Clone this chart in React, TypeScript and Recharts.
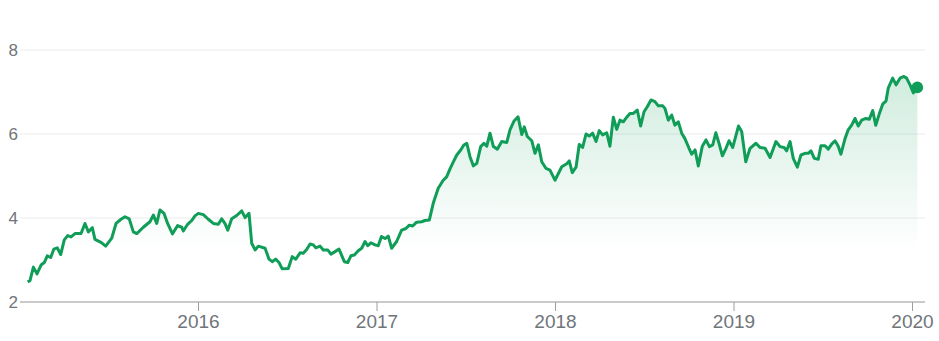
import {
  ComposedChart, Area, XAxis, YAxis, CartesianGrid, ReferenceDot,
} from 'recharts'

// time as decimal years (weekly-ish closes)
const years = [
  2015.043, 2015.056, 2015.075, 2015.095, 2015.118, 2015.136, 2015.153, 2015.172, 2015.190, 2015.209,
  2015.228, 2015.248, 2015.267, 2015.286, 2015.308, 2015.342, 2015.364, 2015.383, 2015.405, 2015.420,
  2015.454, 2015.480, 2015.514, 2015.538, 2015.566, 2015.588, 2015.612, 2015.635, 2015.654, 2015.691,
  2015.728, 2015.747, 2015.766, 2015.784, 2015.807, 2015.827, 2015.854, 2015.883, 2015.906, 2015.915,
  2015.939, 2015.962, 2015.980, 2015.999, 2016.027, 2016.055, 2016.083, 2016.111, 2016.130, 2016.148,
  2016.164, 2016.186, 2016.214, 2016.242, 2016.261, 2016.283, 2016.298, 2016.317, 2016.335, 2016.373,
  2016.395, 2016.413, 2016.432, 2016.451, 2016.469, 2016.503, 2016.525, 2016.545, 2016.569, 2016.587,
  2016.606, 2016.625, 2016.643, 2016.657, 2016.681, 2016.699, 2016.724, 2016.742, 2016.765, 2016.787,
  2016.817, 2016.836, 2016.854, 2016.873, 2016.895, 2016.914, 2016.933, 2016.948, 2016.966, 2016.989,
  2017.007, 2017.025, 2017.045, 2017.063, 2017.082, 2017.110, 2017.138, 2017.162, 2017.181, 2017.200,
  2017.222, 2017.250, 2017.269, 2017.293, 2017.315, 2017.343, 2017.371, 2017.390, 2017.409, 2017.427,
  2017.447, 2017.469, 2017.487, 2017.503, 2017.521, 2017.540, 2017.559, 2017.581, 2017.599, 2017.615,
  2017.633, 2017.652, 2017.674, 2017.699, 2017.727, 2017.745, 2017.768, 2017.790, 2017.811, 2017.825,
  2017.842, 2017.867, 2017.885, 2017.904, 2017.923, 2017.947, 2017.969, 2017.997, 2018.035, 2018.063,
  2018.077, 2018.094, 2018.115, 2018.133, 2018.152, 2018.171, 2018.189, 2018.208, 2018.227, 2018.245,
  2018.264, 2018.287, 2018.305, 2018.324, 2018.343, 2018.361, 2018.380, 2018.399, 2018.417, 2018.436,
  2018.458, 2018.477, 2018.496, 2018.514, 2018.535, 2018.557, 2018.576, 2018.601, 2018.613, 2018.632,
  2018.651, 2018.669, 2018.688, 2018.707, 2018.725, 2018.748, 2018.763, 2018.782, 2018.800, 2018.822,
  2018.843, 2018.862, 2018.881, 2018.898, 2018.916, 2018.935, 2018.955, 2018.972, 2018.993, 2019.025,
  2019.043, 2019.066, 2019.090, 2019.123, 2019.146, 2019.174, 2019.202, 2019.235, 2019.258, 2019.280,
  2019.295, 2019.314, 2019.332, 2019.355, 2019.375, 2019.398, 2019.416, 2019.431, 2019.450, 2019.472,
  2019.487, 2019.510, 2019.528, 2019.547, 2019.566, 2019.584, 2019.599, 2019.622, 2019.640, 2019.659,
  2019.678, 2019.696, 2019.715, 2019.739, 2019.758, 2019.777, 2019.794, 2019.814, 2019.833, 2019.852,
  2019.864, 2019.889, 2019.908, 2019.930, 2019.952, 2019.967, 2019.986, 2020.005, 2020.027,
]

const prices = [
  2.48, 2.51, 2.83, 2.67, 2.88, 2.94, 3.10, 3.06, 3.26, 3.29,
  3.13, 3.48, 3.58, 3.55, 3.63, 3.63, 3.87, 3.67, 3.77, 3.49,
  3.42, 3.33, 3.52, 3.87, 3.97, 4.03, 3.98, 3.67, 3.63, 3.78,
  3.91, 4.07, 3.87, 4.19, 4.11, 3.87, 3.62, 3.82, 3.78, 3.69,
  3.85, 3.94, 4.05, 4.11, 4.08, 3.97, 3.87, 3.85, 3.98, 3.87,
  3.71, 3.98, 4.06, 4.17, 4.01, 4.11, 3.40, 3.24, 3.33, 3.28,
  3.02, 2.96, 3.02, 2.94, 2.79, 2.80, 3.08, 3.02, 3.17, 3.16,
  3.25, 3.38, 3.36, 3.29, 3.33, 3.24, 3.24, 3.14, 3.20, 3.26,
  2.96, 2.94, 3.10, 3.12, 3.22, 3.28, 3.44, 3.34, 3.41, 3.36,
  3.34, 3.56, 3.51, 3.57, 3.28, 3.44, 3.71, 3.75, 3.83, 3.81,
  3.90, 3.91, 3.94, 3.95, 4.35, 4.71, 4.90, 4.98, 5.17, 5.33,
  5.50, 5.62, 5.74, 5.78, 5.46, 5.24, 5.30, 5.70, 5.78, 5.71,
  6.02, 5.70, 5.64, 5.82, 5.80, 6.10, 6.31, 6.41, 5.99, 6.17,
  5.94, 5.84, 5.54, 5.74, 5.34, 5.18, 5.14, 4.90, 5.22, 5.29,
  5.36, 5.08, 5.21, 5.75, 5.68, 6.00, 5.95, 6.02, 5.82, 6.08,
  5.98, 6.03, 5.71, 6.40, 6.11, 6.33, 6.29, 6.40, 6.49, 6.49,
  6.57, 6.19, 6.53, 6.65, 6.81, 6.77, 6.67, 6.67, 6.61, 6.33,
  6.45, 6.21, 6.29, 6.02, 5.89, 5.66, 5.52, 5.62, 5.24, 5.70,
  5.86, 5.70, 5.74, 6.03, 5.78, 5.48, 5.66, 5.84, 5.68, 6.19,
  6.06, 5.34, 5.66, 5.78, 5.68, 5.66, 5.44, 5.82, 5.70, 5.68,
  5.60, 5.82, 5.42, 5.21, 5.50, 5.54, 5.54, 5.60, 5.42, 5.40,
  5.72, 5.72, 5.64, 5.76, 5.84, 5.71, 5.52, 5.89, 6.10, 6.21,
  6.37, 6.19, 6.33, 6.37, 6.35, 6.56, 6.21, 6.48, 6.71, 6.79,
  7.09, 7.33, 7.17, 7.33, 7.37, 7.33, 7.17, 6.98, 7.11,
]

const yearTicks = [2016, 2017, 2018, 2019, 2020]
const priceTicks = [2, 4, 6, 8]

const GREEN = '#0f9d58'
const TEXT = '#70757a'
const FONT = 'Arial, "Liberation Sans", sans-serif'

const data = years.map((t, i) => ({ t, v: prices[i] }))
const last = data[data.length - 1]

export default function App() {
  return (
    <div style={{ position: 'absolute', left: 0, top: 0, fontFamily: FONT }}>
      <ComposedChart
        width={939}
        height={341}
        data={data}
        margin={{ top: 50, right: 14, left: 0, bottom: 0 }}
      >
        <defs>
          <linearGradient id="fillGreen" x1="0" y1="0" x2="0" y2="1">
            <stop offset="0%" stopColor={GREEN} stopOpacity={0.32} />
            <stop offset="77%" stopColor={GREEN} stopOpacity={0} />
          </linearGradient>
        </defs>
        <CartesianGrid vertical={false} stroke="#ececec" />
        <XAxis
          dataKey="t"
          type="number"
          domain={[2015, 2020.07]}
          ticks={yearTicks}
          allowDataOverflow
          height={39}
          tickSize={9}
          tickMargin={4}
          stroke="#9e9e9e"
          tick={{ fontSize: 19, fill: TEXT, fontFamily: FONT }}
        />
        <YAxis
          domain={[2, 8]}
          ticks={priceTicks}
          width={20}
          axisLine={false}
          tickLine={false}
          tickSize={0}
          tickMargin={2}
          tick={{ fontSize: 17, fill: TEXT, fontFamily: FONT }}
        />
        <Area
          type="linear"
          dataKey="v"
          stroke={GREEN}
          strokeWidth={3}
          strokeLinejoin="round"
          fill="url(#fillGreen)"
          dot={false}
          activeDot={false}
          isAnimationActive={false}
        />
        <ReferenceDot x={last.t} y={last.v} r={5.8} fill={GREEN} stroke="none" />
      </ComposedChart>
    </div>
  )
}
